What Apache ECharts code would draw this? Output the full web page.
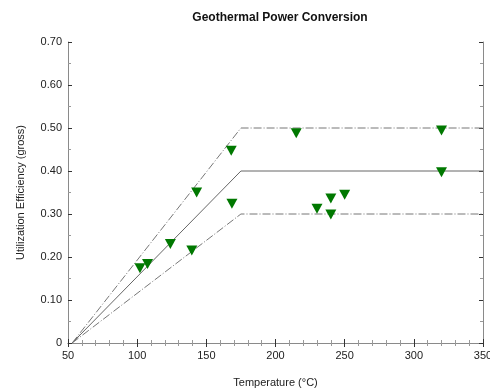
<!DOCTYPE html>
<html>
<head>
<meta charset="utf-8">
<script src="https://cdn.jsdelivr.net/npm/echarts@6/dist/echarts.min.js"></script>
<style>
  html, body { margin: 0; padding: 0; background: #fff; }
  #chart { width: 490px; height: 389px; }
</style>
</head>
<body>
<div id="chart"></div>
<script>
// measured plants: [temperature °C, utilization efficiency]
const plants = [
  [102, 0.174], [107.5, 0.184], [124, 0.230], [139.5, 0.215],
  [143, 0.350], [168, 0.447], [168.5, 0.324], [215, 0.488],
  [230, 0.312], [240, 0.336], [240, 0.299], [250, 0.345],
  [320, 0.494], [320, 0.397]
]

// envelope lines: rise from the start temperature, flat after the knee
const lineTemps = [53, 175, 350]
const upperValues = [0, 0.5, 0.5]
const middleValues = [0, 0.4, 0.4]
const lowerValues = [0, 0.3, 0.3]

const zip = (xs, ys) => xs.map((x, i) => [x, ys[i]])

const font = 'Liberation Sans'
const frame = '#8a8a8a'

const axisCommon = {
  axisLine: { show: true, lineStyle: { color: frame, width: 1 } },
  axisTick: { show: true, inside: true, length: 4, lineStyle: { color: '#333' } },
  minorTick: { show: true, length: 3, lineStyle: { color: '#999' } },
  splitLine: { show: false },
}

const chart = echarts.init(document.getElementById('chart'), null, { renderer: 'canvas' })

chart.setOption({
  animation: false,
  backgroundColor: '#fff',
  textStyle: { fontFamily: font },
  title: {
    text: 'Geothermal Power Conversion',
    left: 275,
    top: 7,
    textAlign: 'center',
    textStyle: { fontFamily: font, fontSize: 12, fontWeight: 'bold', color: '#111' },
  },
  grid: { left: 68, right: 7, top: 42, bottom: 46, outerBoundsMode: 'none', containLabel: false },
  xAxis: [
    {
      ...axisCommon,
      type: 'value',
      min: 50,
      max: 350,
      interval: 50,
      minorTick: { ...axisCommon.minorTick, splitNumber: 5 },
      axisLabel: { color: '#222', fontSize: 11, margin: 7 },
      name: 'Temperature (°C)',
      nameLocation: 'middle',
      nameGap: 34,
      nameTextStyle: { color: '#222', fontSize: 11 },
    },
    {
      ...axisCommon,
      type: 'value',
      position: 'top',
      min: 50,
      max: 350,
      interval: 50,
      minorTick: { ...axisCommon.minorTick, splitNumber: 5 },
      axisLabel: { show: false },
    },
  ],
  yAxis: [
    {
      ...axisCommon,
      type: 'value',
      min: 0,
      max: 0.7,
      interval: 0.1,
      minorTick: { ...axisCommon.minorTick, splitNumber: 2 },
      axisLabel: {
        color: '#222',
        fontSize: 11,
        margin: 6,
        formatter: (v) => (v === 0 ? '0' : v.toFixed(2)),
      },
      name: 'Utilization Efficiency (gross)',
      nameLocation: 'middle',
      nameGap: 42,
      nameTextStyle: { color: '#222', fontSize: 11 },
    },
    {
      ...axisCommon,
      type: 'value',
      position: 'right',
      min: 0,
      max: 0.7,
      interval: 0.1,
      minorTick: { ...axisCommon.minorTick, splitNumber: 2 },
      axisLabel: { show: false },
    },
  ],
  series: [
    {
      type: 'line',
      data: zip(lineTemps, upperValues),
      symbol: 'none',
      lineStyle: { color: '#777', width: 1, type: [8, 2, 1, 2] },
    },
    {
      type: 'line',
      data: zip(lineTemps, middleValues),
      symbol: 'none',
      lineStyle: { color: '#666', width: 1, type: 'solid' },
    },
    {
      type: 'line',
      data: zip(lineTemps, lowerValues),
      symbol: 'none',
      lineStyle: { color: '#777', width: 1, type: [8, 2, 1, 2] },
    },
    {
      type: 'scatter',
      data: plants,
      symbol: 'triangle',
      symbolRotate: 180,
      symbolSize: [11, 10],
      itemStyle: { color: '#007800', opacity: 1 },
      z: 5,
    },
  ],
})
</script>
</body>
</html>
